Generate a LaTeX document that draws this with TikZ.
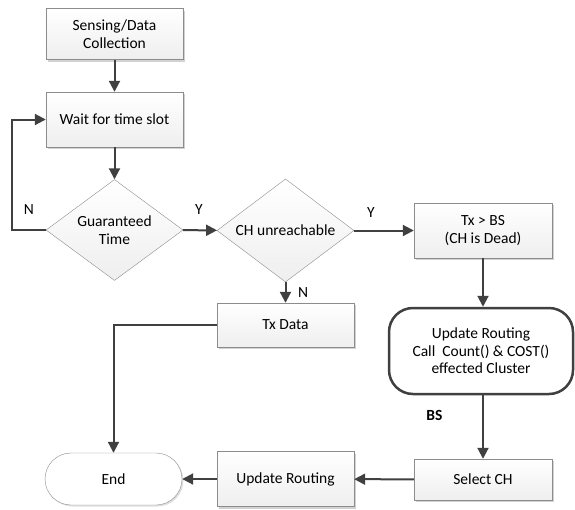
\documentclass[tikz,border=0pt]{standalone}
\usepackage{fontspec}
\setmainfont{Carlito}
\usetikzlibrary{shapes.geometric,arrows.meta,shadows}
\definecolor{lineg}{HTML}{404040}
\definecolor{boxg}{HTML}{8C8C8C}
\tikzset{
  procbox/.style={draw=boxg, top color=white, bottom color=gray!13, inner sep=2pt,
    minimum width=137pt, align=center,
    drop shadow={shadow xshift=2pt, shadow yshift=-2pt, fill=gray!35, opacity=1}},
  decide/.style={diamond, draw=boxg, top color=white, bottom color=gray!13, inner sep=0pt,
    aspect=1.36, minimum width=137pt, minimum height=101pt, align=center},
  flow/.style={draw=lineg, line width=2pt, -{Triangle[length=11pt,width=11pt]}},
  lbl/.style={font=\fontsize{15.5}{18}\selectfont}
}
\begin{document}
\begin{tikzpicture}[x=1pt,y=-1pt,font=\fontsize{15.5}{17.5}\selectfont]
    \useasboundingbox (0,0) rectangle (575,509);

    \node[procbox, minimum height=51pt] (sense) at (114.5,34) {Sensing/Data\\Collection};
    \node[procbox, minimum height=55pt] (wait) at (114.5,119.5) {Wait for time slot};
    \node[decide] (guar) at (114.5,230) {Guaranteed\\Time};
    \node[decide, minimum height=103pt] (chu) at (285.5,230.5) {CH unreachable};
    \node[procbox, minimum width=138pt, minimum height=55pt] (txbs) at (483,230.5) {Tx > BS\\(CH is Dead)};
    \node[procbox, minimum height=44pt] (txdata) at (285.5,325) {Tx Data};
    \node[draw=lineg, line width=2.5pt, fill=white, rounded corners=24pt, align=center,
          minimum width=184pt, minimum height=86pt] (upd) at (481,351)
          {Update Routing\\Call\ \ Count() \& COST()\\effected Cluster};
    \node[procbox, minimum width=138pt, minimum height=41pt] (selch) at (483,479.5) {Select CH};
    \node[procbox, minimum height=55pt] (updr) at (285.5,479) {Update Routing};
    \node[draw=boxg, fill=white, rounded corners=26pt, minimum width=137pt, minimum height=52pt,
          drop shadow={shadow xshift=1.5pt, shadow yshift=-1.5pt, fill=gray!25, opacity=1}]
          (endn) at (113.5,479) {End};
    \coordinate (loop) at (12,230);

    \draw[flow] (sense) -- (wait);
    \draw[flow] (wait) -- (guar);
    \draw[flow] (guar.west) -- (loop) |- (wait.west);
    \draw[flow] (guar) -- (chu);
    \draw[flow] (chu) -- (txbs);
    \draw[flow] (chu) -- (txdata);
    \draw[flow] (txbs.south) -- (txbs.south |- upd.north);
    \draw[flow] (upd.south -| selch.north) -- (selch.north);
    \draw[flow] (txdata.west) -| (endn.north);
    \draw[flow] (selch) -- (updr);
    \draw[flow] (updr) -- (endn);

    \node[lbl] (nguar) at (29,210) {N};
    \node[lbl] (yguar) at (199,210) {Y};
    \node[lbl] (ychu) at (371,213) {Y};
    \node[lbl] (nchu) at (303,293) {N};
    \node[lbl, font=\fontsize{15.5}{18}\selectfont\bfseries] (bs) at (434.5,415) {BS};
\end{tikzpicture}
\end{document}
